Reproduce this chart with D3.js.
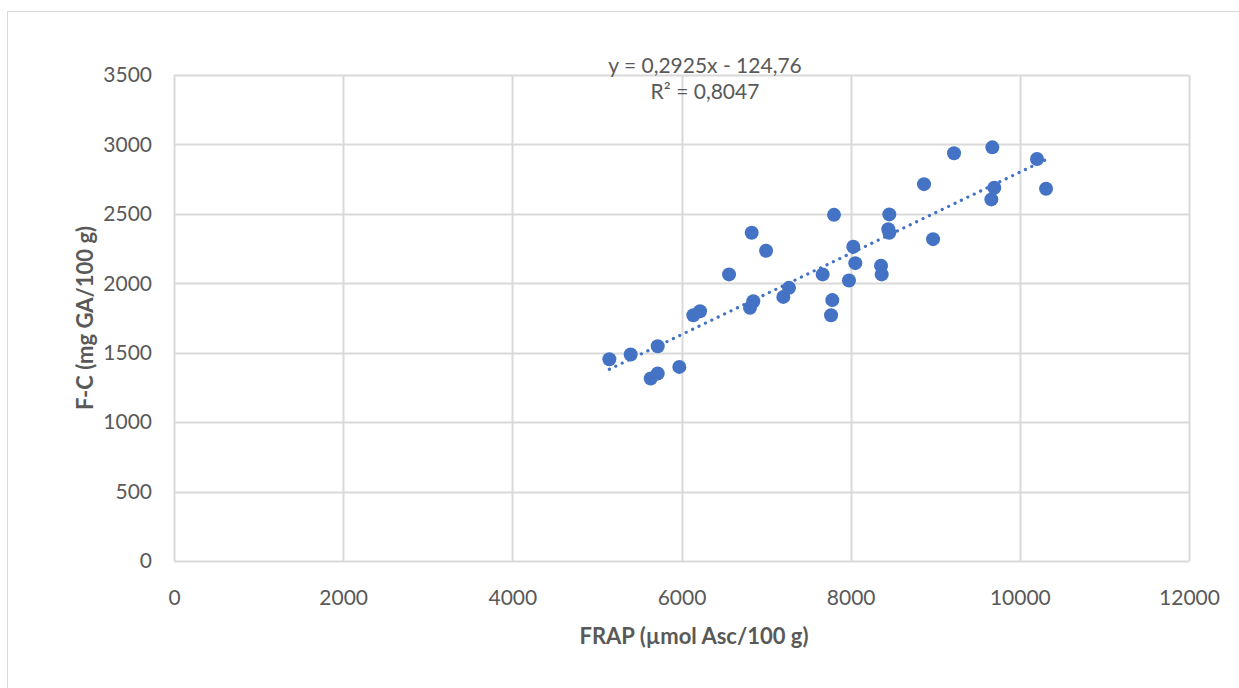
<!DOCTYPE html>
<html>
<head>
<meta charset="utf-8">
<script src="https://cdn.jsdelivr.net/npm/d3@7"></script>
<style>
  body { margin: 0; background: #ffffff; }
  text { font-family: Lato, "Open Sans", sans-serif; fill: #595959; }
</style>
</head>
<body>
<script>
// FRAP (x) vs F-C (y) values
var frap = [5147, 5399, 5719, 5636, 5719, 5974, 6140, 6219, 6562, 6830,
            7000, 6849, 6810, 7204, 7271, 7669, 7803, 7783, 7768, 8031,
            8055, 7980, 8359, 8367, 8445, 8457, 8457, 8867, 9222, 9675,
            8974, 9698, 9663, 10203, 10310]
var fc = [1453, 1487, 1547, 1314, 1350, 1398, 1770, 1799, 2064, 2364,
          2234, 1871, 1823, 1902, 1967, 2064, 2493, 1879, 1770, 2263,
          2145, 2020, 2126, 2064, 2390, 2364, 2496, 2714, 2936, 2979,
          2318, 2688, 2604, 2895, 2681]

var xTicks = [0, 2000, 4000, 6000, 8000, 10000, 12000]
var yTicks = [0, 500, 1000, 1500, 2000, 2500, 3000, 3500]

var slope = 0.2925
var intercept = -124.76
var eqLabel = "y = 0,2925x - 124,76"
var r2Label = "R² = 0,8047"

var svgWidth = 1239
var svgHeight = 688
var blue = "#4472C4"
var gridColor = "#d9d9d9"

var svg = d3.select("body").append("svg")
    .attr("width", svgWidth)
    .attr("height", svgHeight)

// outer chart border (only left and top show in the picture)
svg.append("path")
    .attr("d", "M7.5,688 L7.5,11.5 L1239,11.5")
    .attr("fill", "none")
    .attr("stroke", "#d9d9d9")
    .attr("stroke-width", 1)

var plotLeft = 174, plotRight = 1189, plotTop = 75, plotBottom = 561

var x = d3.scaleLinear().domain([0, 12000]).range([plotLeft, plotRight])
var y = d3.scaleLinear().domain([0, 3500]).range([plotBottom, plotTop])

// gridlines
var grid = svg.append("g")
grid.selectAll(".hgrid").data(yTicks).enter().append("line")
    .attr("x1", plotLeft).attr("x2", plotRight)
    .attr("y1", function(d) { return Math.round(y(d)) + 0.5 })
    .attr("y2", function(d) { return Math.round(y(d)) + 0.5 })
    .attr("stroke", gridColor).attr("stroke-width", 2)
grid.selectAll(".vgrid").data(xTicks).enter().append("line")
    .attr("y1", plotTop).attr("y2", plotBottom)
    .attr("x1", function(d) { return Math.round(x(d)) + 0.5 })
    .attr("x2", function(d) { return Math.round(x(d)) + 0.5 })
    .attr("stroke", gridColor).attr("stroke-width", 2)

// axes (tick labels only)
var xAxis = svg.append("g")
    .attr("transform", "translate(0," + plotBottom + ")")
    .call(d3.axisBottom(x).tickValues(xTicks).tickFormat(d3.format("d")).tickSize(0).tickPadding(29))
var yAxis = svg.append("g")
    .attr("transform", "translate(" + plotLeft + ",0)")
    .call(d3.axisLeft(y).tickValues(yTicks).tickFormat(d3.format("d")).tickSize(0).tickPadding(22))
svg.selectAll(".domain").remove()
svg.selectAll(".tick text")
    .style("font-family", "Lato, sans-serif")
    .style("font-size", "21px")
    .attr("fill", "#595959")

// trendline
var xMin = d3.min(frap), xMax = d3.max(frap)
svg.append("line")
    .attr("x1", x(xMin)).attr("y1", y(slope * xMin + intercept))
    .attr("x2", x(xMax)).attr("y2", y(slope * xMax + intercept))
    .attr("stroke", blue)
    .attr("stroke-width", 3.2)
    .attr("stroke-linecap", "round")
    .attr("stroke-dasharray", "0.1,7")

// points
svg.append("g").selectAll("circle")
    .data(frap).enter().append("circle")
    .attr("cx", function(d) { return x(d) })
    .attr("cy", function(d, i) { return y(fc[i]) })
    .attr("r", 7)
    .attr("fill", blue)

// equation label
svg.append("text")
    .attr("x", 705).attr("y", 73)
    .attr("text-anchor", "middle")
    .style("font-size", "21px")
    .text(eqLabel)
svg.append("text")
    .attr("x", 705).attr("y", 99)
    .attr("text-anchor", "middle")
    .style("font-size", "21px")
    .text(r2Label)

// axis titles
svg.append("text")
    .attr("x", 694).attr("y", 644)
    .attr("text-anchor", "middle")
    .style("font-size", "22px")
    .style("font-weight", "bold")
    .text("FRAP (µmol Asc/100 g)")
svg.append("text")
    .attr("transform", "translate(93," + (plotTop + plotBottom) / 2 + ") rotate(-90)")
    .attr("text-anchor", "middle")
    .style("font-size", "22px")
    .style("font-weight", "bold")
    .text("F-C (mg GA/100 g)")
</script>
</body>
</html>
